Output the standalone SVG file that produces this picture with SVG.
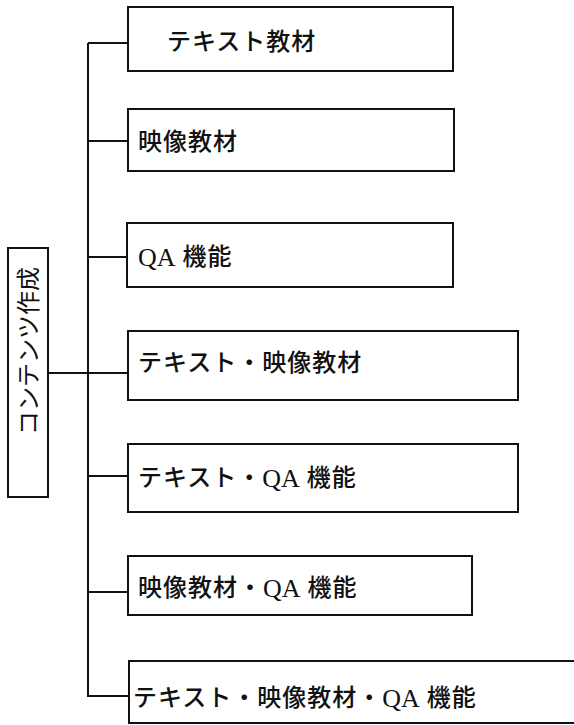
<svg xmlns="http://www.w3.org/2000/svg" width="574" height="725" viewBox="0 0 574 725">
<style>
.box{fill:#fff;stroke:#111;stroke-width:2}
.ln{fill:none;stroke:#111;stroke-width:2}
.t{font-family:"Liberation Serif","Noto Sans CJK JP",serif;font-size:24px;fill:#111;dominant-baseline:central;letter-spacing:1px;font-weight:500}
.v{letter-spacing:0;font-weight:400}
.qa{font-size:26px;font-weight:normal;letter-spacing:0}
</style>
<rect width="574" height="725" fill="#fff"/>
<g id="connectors">
<path class="ln" d="M88,43 V696 H129"/>
<path class="ln" d="M88,43 H128 M88,141 H128 M88,257 H127 M48,373 H128 M88,476 H128 M88,592 H128"/>
</g>
<g id="root">
<rect class="box" x="8" y="248" width="40" height="249"/>
<text class="t v" transform="translate(29,351) rotate(-90)" text-anchor="middle">コンテンツ作成</text>
</g>
<g id="n1"><rect class="box" x="128" y="7" width="325" height="64"/><text class="t" x="167" y="42">テキスト教材</text></g>
<g id="n2"><rect class="box" x="128" y="109" width="326" height="62"/><text class="t" x="138" y="142">映像教材</text></g>
<g id="n3"><rect class="box" x="127" y="223" width="326" height="64"/><text class="t" x="138" y="257"><tspan class="qa">QA</tspan> 機能</text></g>
<g id="n4"><rect class="box" x="128" y="331" width="390" height="69"/><text class="t" x="138" y="363">テキスト・映像教材</text></g>
<g id="n5"><rect class="box" x="128" y="444" width="390" height="68"/><text class="t" x="138" y="478">テキスト・<tspan class="qa">QA</tspan> 機能</text></g>
<g id="n6"><rect class="box" x="128" y="556" width="344" height="59"/><text class="t" x="138" y="588">映像教材・<tspan class="qa">QA</tspan> 機能</text></g>
<g id="n7"><rect class="box" x="129" y="661" width="460" height="62"/><text class="t" x="133" y="698">テキスト・映像教材・<tspan class="qa">QA</tspan> 機能</text></g>
</svg>
